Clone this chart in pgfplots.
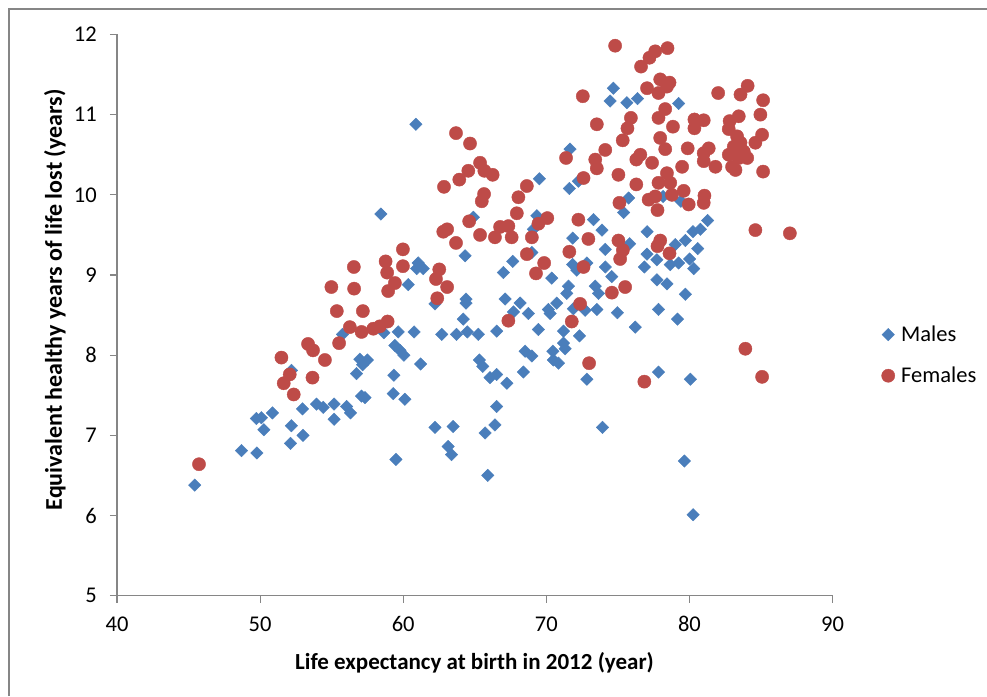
\documentclass[border=0pt]{standalone}
\usepackage{pgfplots}
\pgfplotsset{compat=1.18}
\usepackage{fontspec}
\setmainfont{Carlito}
\definecolor{mblue}{HTML}{4A7EBB}
\definecolor{fred}{HTML}{BE4B48}
\definecolor{axgray}{HTML}{868686}
\begin{document}
\begin{tikzpicture}
\path[use as bounding box] (0pt,0pt) rectangle (987pt,696pt);
\draw[axgray, line width=2pt] (9pt,0pt) -- (9pt,687pt) -- (987pt,687pt);
\begin{axis}[
  at={(117pt,100.3pt)}, anchor=south west,
  scale only axis, width=715.5pt, height=561.2pt,
  xmin=40, xmax=90, ymin=5, ymax=12,
  xtick={40,50,60,70,80,90}, ytick={5,6,7,8,9,10,11,12},
  axis lines=left,
  axis line style={draw=axgray, line width=1.2pt, -},
  tick align=outside, major tick length=7pt,
  tick style={draw=axgray, line width=1.2pt},
  /pgf/number format/assume math mode=true,
  ticklabel style={font=\fontsize{22.5}{27}\selectfont, text=black},
  xticklabel style={anchor=center, inner sep=0pt, yshift=-21.3pt},
  yticklabel style={anchor=east, inner sep=0pt, xshift=-13pt},
  xlabel={Life expectancy at birth in 2012 (year)},
  ylabel={Equivalent healthy years of life lost (years)},
  every axis x label/.style={at={(axis description cs:0.4996,-0.12)}, anchor=center, font=\bfseries\fontsize{23}{27}\selectfont},
  every axis y label/.style={at={(axis description cs:-0.0867,0.527)}, anchor=center, rotate=90, font=\bfseries\fontsize{24}{28}\selectfont},
  legend style={at={(axis description cs:1.0678,0.4286)}, anchor=west, draw=none, fill=none,
    inner sep=0pt, row sep=24pt, nodes={inner sep=0pt}, font=\fontsize{22.5}{27}\selectfont,
    /tikz/every odd column/.append style={column sep=6pt}},
  legend cell align=left,
  legend image code/.code={\path[draw=none,fill=none] (-7pt,-7pt) rectangle (7pt,7pt); \draw[#1] plot coordinates {(0pt,0pt)};},
  clip=false,
]
\addplot[only marks, mark=square*, mark size=4.4pt, mark options={rotate=45, draw=mblue, fill=mblue, line width=0.4pt}] coordinates {
(45.43,6.38) (48.70,6.81) (49.78,6.78) (49.74,7.21) (50.09,7.22) (50.27,7.07) (50.86,7.28)
(52.12,6.90) (52.19,7.12) (53.00,7.00) (52.96,7.33) (53.94,7.39) (54.41,7.35) (55.17,7.39)
(55.17,7.20) (56.04,7.36) (56.32,7.28) (52.19,7.81) (55.76,8.26) (56.97,7.95) (57.49,7.94)
(57.16,7.88) (56.74,7.77) (57.09,7.49) (57.33,7.47) (59.30,7.52) (59.35,7.75) (58.65,8.28)
(59.65,8.29) (59.49,6.70) (58.44,9.76) (59.42,8.12) (59.77,8.06) (60.05,8.00) (60.12,7.45)
(60.76,8.29) (60.35,8.88) (60.89,10.88) (61.05,9.15) (61.40,9.08) (60.94,9.08) (61.22,7.89)
(62.22,7.10) (62.22,8.64) (62.69,8.26) (63.49,7.11) (63.14,6.86) (63.38,6.76) (63.73,8.26)
(64.20,8.45) (64.39,8.70) (64.39,8.65) (64.48,8.29) (64.32,9.24) (64.90,9.72) (65.25,8.26)
(65.32,7.94) (65.56,7.86) (65.72,7.03) (65.91,6.50) (66.07,7.72) (66.53,7.76) (66.41,7.13)
(66.53,7.36) (66.53,8.30) (67.00,9.03) (67.12,8.70) (67.24,7.65) (67.65,9.17) (67.70,8.54)
(68.17,8.65) (68.40,7.79) (68.52,8.05) (68.99,7.99) (68.75,8.52) (68.99,9.28) (69.10,9.57)
(69.34,9.74) (69.45,8.32) (69.52,10.20) (70.15,8.57) (70.73,8.65) (70.27,8.52) (70.46,8.05)
(70.50,7.94) (70.85,7.90) (70.38,8.96) (71.20,8.15) (71.32,8.08) (71.20,8.30) (71.43,8.77)
(71.55,8.86) (71.61,10.08) (71.66,10.57) (72.24,10.17) (71.84,9.46) (71.84,9.13) (72.83,9.15)
(72.13,9.06) (71.89,8.58) (72.71,8.56) (72.32,8.24) (72.83,7.70) (73.30,9.69) (73.89,9.56)
(73.42,8.86) (73.65,8.77) (73.54,8.57) (73.93,7.10) (74.12,9.32) (74.58,8.98) (74.12,9.10)
(74.46,11.17) (74.69,11.33) (75.63,11.15) (76.38,11.20) (79.25,11.14) (75.75,9.96) (75.40,9.78)
(78.16,9.98) (79.41,9.92) (77.04,9.54) (75.82,9.39) (80.25,9.54) (80.77,9.57) (81.28,9.68)
(79.72,9.43) (80.58,9.33) (79.01,9.38) (77.04,9.26) (77.73,9.19) (80.02,9.20) (80.30,9.08)
(76.85,9.10) (78.66,9.13) (79.25,9.15) (77.73,8.94) (78.43,8.89) (79.72,8.76) (74.97,8.53)
(77.84,8.57) (79.17,8.45) (76.22,8.35) (77.84,7.79) (80.07,7.70) (79.65,6.68) (80.26,6.01)
};
\addlegendentry{Males}
\addplot[only marks, mark=*, mark size=6.6pt, mark options={draw=fred, fill=fred, line width=0.4pt}] coordinates {
(45.73,6.64) (52.35,7.51) (51.65,7.65) (52.07,7.76) (51.49,7.97) (53.66,7.72) (54.53,7.94)
(53.35,8.14) (53.70,8.06) (55.52,8.15) (56.27,8.35) (57.09,8.29) (57.91,8.33) (58.37,8.36)
(58.91,8.42) (55.36,8.55) (57.18,8.55) (54.98,8.85) (56.57,8.83) (58.95,8.80) (59.42,8.90)
(56.55,9.10) (58.77,9.17) (58.88,9.03) (59.98,9.32) (59.98,9.11) (72.55,11.23) (73.53,10.88)
(63.69,10.77) (64.67,10.64) (74.12,10.56) (71.38,10.46) (73.42,10.44) (73.53,10.33) (65.37,10.40)
(64.55,10.30) (65.67,10.30) (66.25,10.25) (63.92,10.19) (62.85,10.10) (72.60,10.21) (68.64,10.11)
(68.05,9.97) (65.65,10.01) (65.49,9.92) (67.94,9.77) (70.07,9.71) (64.61,9.67) (69.45,9.64)
(72.24,9.69) (62.80,9.54) (63.07,9.57) (65.37,9.50) (66.77,9.60) (67.35,9.61) (66.41,9.47)
(67.58,9.47) (68.99,9.47) (72.94,9.45) (63.69,9.40) (71.61,9.29) (68.64,9.26) (69.85,9.15)
(69.28,9.02) (72.60,9.10) (62.52,9.07) (62.29,8.95) (63.07,8.85) (62.38,8.71) (67.35,8.43)
(72.36,8.64) (71.78,8.42) (72.99,7.90) (74.81,11.86) (78.47,11.83) (77.61,11.79) (77.21,11.71)
(76.62,11.60) (77.04,11.33) (77.96,11.44) (78.61,11.40) (77.84,11.27) (78.43,11.35) (82.01,11.27)
(84.07,11.36) (83.57,11.25) (85.15,11.18) (78.31,11.07) (77.84,10.96) (75.91,10.96) (75.67,10.83)
(78.85,10.85) (80.35,10.94) (81.00,10.93) (80.35,10.83) (82.81,10.92) (83.45,10.98) (82.75,10.82)
(84.96,11.00) (75.34,10.68) (77.96,10.71) (78.31,10.57) (79.88,10.58) (83.33,10.73) (83.57,10.65)
(83.10,10.60) (83.80,10.54) (82.75,10.50) (83.45,10.46) (84.04,10.46) (82.98,10.35) (83.22,10.31)
(85.08,10.75) (84.61,10.65) (81.00,10.52) (81.35,10.58) (81.00,10.42) (81.82,10.35) (76.57,10.50)
(76.29,10.44) (77.39,10.40) (79.49,10.35) (85.15,10.29) (75.04,10.25) (78.43,10.27) (77.84,10.15)
(78.66,10.15) (76.29,10.13) (79.60,10.05) (78.78,10.00) (77.15,9.94) (77.61,9.98) (77.77,9.81)
(75.11,9.90) (79.95,9.88) (81.05,9.99) (81.00,9.90) (84.61,9.56) (87.02,9.52) (75.04,9.43)
(75.35,9.31) (75.16,9.20) (77.96,9.43) (77.77,9.36) (78.61,9.27) (74.58,8.78) (75.51,8.85)
(83.91,8.08) (85.08,7.73) (76.85,7.67)
};
\addlegendentry{Females}
\end{axis}
\end{tikzpicture}
\end{document}
